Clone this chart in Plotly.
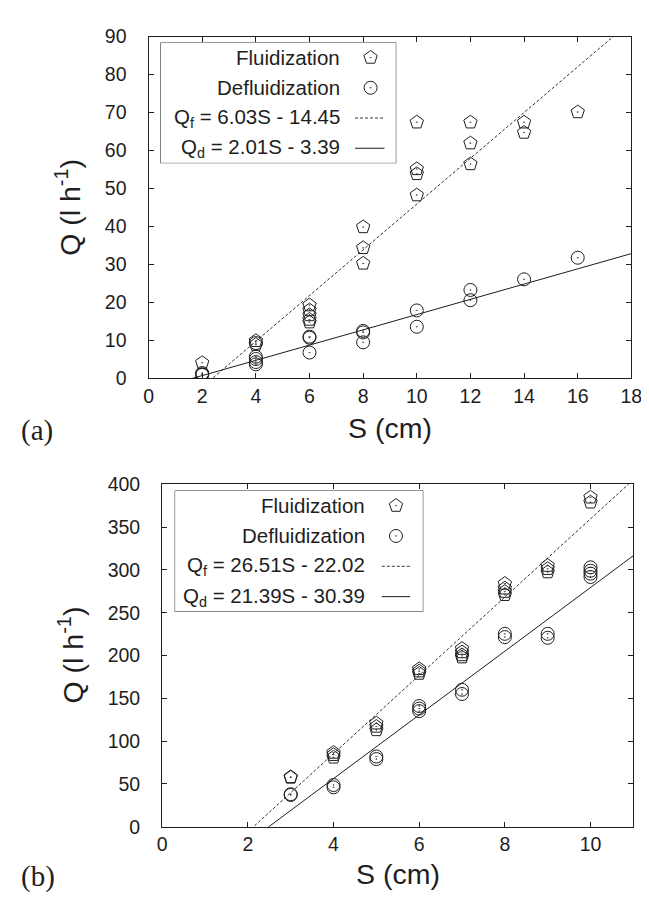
import plotly.graph_objects as go

# ---------------- data: panel (a) ----------------
a_fluid_S = [2, 4, 4, 6, 6, 6, 6, 6, 8, 8, 8, 10, 10, 10, 10, 12, 12, 12, 14, 14, 16]
a_fluid_Q = [4.0, 9.8, 8.8, 19.2, 17.9, 16.6, 15.4, 14.7, 39.8, 34.3, 30.2,
             67.4, 55.1, 53.8, 48.2, 67.4, 61.9, 56.4, 67.4, 64.7, 70.1]
a_defl_S = [2, 2, 2, 4, 4, 4, 4, 4, 6, 6, 6, 8, 8, 8, 10, 10, 12, 12, 14, 16]
a_defl_Q = [1.3, 1.0, 0.8, 9.2, 5.6, 5.0, 4.2, 3.6, 10.9, 10.6, 6.7, 12.4, 12.0, 9.4,
            17.8, 13.5, 23.2, 20.5, 26.0, 31.7]
a_fit_slope = [6.03, 2.01]        # fluidization, defluidization
a_fit_icpt = [-14.45, -3.39]
a_fit_labels = ["Q<sub>f</sub> = 6.03S - 14.45", "Q<sub>d</sub> = 2.01S - 3.39"]
a_xrange = [0, 18]
a_yrange = [0, 90]

# ---------------- data: panel (b) ----------------
b_fluid_S = [3, 3, 4, 4, 4, 5, 5, 5, 6, 6, 6, 7, 7, 7, 7, 8, 8, 8, 8, 9, 9, 9, 10, 10]
b_fluid_Q = [58.1, 57.5, 86.6, 84.0, 81.0, 120.8, 117.0, 113.0, 184.3, 181.6, 178.9,
             208.0, 204.0, 200.5, 198.0, 284.0, 278.5, 274.6, 270.9, 305.0, 301.3, 297.4,
             384.8, 379.0]
b_defl_S = [3, 3, 4, 4, 5, 5, 6, 6, 6, 7, 7, 8, 8, 9, 9, 10, 10, 10, 10]
b_defl_Q = [38.0, 37.0, 48.7, 46.0, 82.0, 79.0, 141.0, 138.0, 135.0, 160.0, 155.0,
            225.3, 221.5, 225.3, 220.7, 303.0, 299.0, 295.6, 291.7]
# lines as drawn in the figure
b_fit_slope = [45.7, 37.2]
b_fit_icpt = [-97.4, -92.6]
b_fit_labels = ["Q<sub>f</sub> = 26.51S - 22.02", "Q<sub>d</sub> = 21.39S - 30.39"]
b_xrange = [0, 11]
b_yrange = [0, 400]

series_names = ["Fluidization", "Defluidization"]

W, H = 649, 897
INK = "#1e1e1e"
FONT = "Liberation Sans"


def px(x):
    return x / W


def py(y):
    return 1 - y / H


fig = go.Figure()

MK = dict(
    fluid=dict(symbol="pentagon-open-dot", size=14, color=INK, line=dict(width=1, color=INK)),
    defl=dict(symbol="circle-open-dot", size=13, color=INK, line=dict(width=1, color=INK)),
)
LN = [dict(color="#333", width=1, dash="3px,2px"), dict(color=INK, width=1)]


def add_panel(xa, ya, fS, fQ, dS, dQ, slopes, icpts, xr):
    for k in range(2):
        xs = [xr[0], xr[1]]
        ys = [slopes[k] * x + icpts[k] for x in xs]
        fig.add_trace(go.Scatter(x=xs, y=ys, mode="lines", line=LN[k],
                                 xaxis=xa, yaxis=ya, showlegend=False, hoverinfo="skip"))
    fig.add_trace(go.Scatter(x=fS, y=fQ, mode="markers", marker=MK["fluid"],
                             xaxis=xa, yaxis=ya, showlegend=False))
    fig.add_trace(go.Scatter(x=dS, y=dQ, mode="markers", marker=MK["defl"],
                             xaxis=xa, yaxis=ya, showlegend=False))


add_panel("x", "y", a_fluid_S, a_fluid_Q, a_defl_S, a_defl_Q, a_fit_slope, a_fit_icpt, a_xrange)
add_panel("x2", "y2", b_fluid_S, b_fluid_Q, b_defl_S, b_defl_Q, b_fit_slope, b_fit_icpt, b_xrange)

# ---------------- custom gnuplot-style keys ----------------
rows = [0.875, 0.625, 0.375, 0.125]
annotations = []
shapes = []


def add_key(xa, ya, sym_x, line_x0, line_x1, text_x, labels):
    fig.add_trace(go.Scatter(x=[sym_x], y=[rows[0]], mode="markers", marker=MK["fluid"],
                             xaxis=xa, yaxis=ya, showlegend=False, hoverinfo="skip"))
    fig.add_trace(go.Scatter(x=[sym_x], y=[rows[1]], mode="markers", marker=MK["defl"],
                             xaxis=xa, yaxis=ya, showlegend=False, hoverinfo="skip"))
    for k in range(2):
        fig.add_trace(go.Scatter(x=[line_x0, line_x1], y=[rows[2 + k]] * 2, mode="lines",
                                 line=LN[k], xaxis=xa, yaxis=ya, showlegend=False,
                                 hoverinfo="skip"))
    texts = series_names + labels
    for r, t in zip(rows, texts):
        annotations.append(dict(x=text_x, y=r, xref=xa, yref=ya, text=t, showarrow=False,
                                xanchor="right", yanchor="middle",
                                font=dict(family=FONT, size=20.5, color=INK)))
    shapes.append(dict(type="rect", xref=xa, yref=ya, x0=0, x1=1, y0=0, y1=1,
                       line=dict(color=INK, width=1)))


add_key("x3", "y3", 0.891, 0.825, 0.950, 0.771, a_fit_labels)
add_key("x4", "y4", 0.890, 0.833, 0.947, 0.775, b_fit_labels)


# ---------------- titles & panel labels ----------------
def title(x, y, text, angle=0, size=28.5, family=FONT, xanchor="center"):
    annotations.append(dict(x=px(x), y=py(y), xref="paper", yref="paper", text=text,
                            showarrow=False, xanchor=xanchor, yanchor="middle",
                            textangle=angle, font=dict(family=family, size=size, color=INK)))


title(386.5, 419, "S (cm)")
title(394.5, 877, "S (cm)")
title(57, 193, "Q (l h<sup>-1</sup>)", angle=-90)
title(60, 652, "Q (l h<sup>-1</sup>)", angle=-90)
title(6, 422, "(a)", size=29, family="Liberation Serif", xanchor="left")
title(6, 879, "(b)", size=29, family="Liberation Serif", xanchor="left")

axis_common = dict(showline=True, linecolor=INK, linewidth=1.3, mirror="ticks",
                   ticks="inside", ticklen=5, tickwidth=1, tickcolor=INK,
                   showgrid=False, zeroline=False,
                   tickfont=dict(family=FONT, size=19.5, color=INK))
hidden = dict(visible=False, range=[0, 1], showgrid=False, zeroline=False, fixedrange=True)

fig.update_layout(
    width=W, height=H,
    margin=dict(l=0, r=0, t=0, b=0),
    paper_bgcolor="white", plot_bgcolor="rgba(0,0,0,0)",
    showlegend=False,
    xaxis=dict(domain=[px(139), px(634)], anchor="y", range=a_xrange, dtick=2, tick0=0,
               ticklabelstandoff=0, **axis_common),
    yaxis=dict(domain=[py(368), py(18)], anchor="x", range=a_yrange, dtick=10, tick0=0,
               ticklabelstandoff=17, **axis_common),
    xaxis2=dict(domain=[px(153), px(636)], anchor="y2", range=b_xrange, dtick=2, tick0=0,
                ticklabelstandoff=0, **axis_common),
    yaxis2=dict(domain=[py(828), py(477)], anchor="x2", range=b_yrange, dtick=50, tick0=0,
                ticklabelstandoff=17, **axis_common),
    xaxis3=dict(domain=[px(151), px(393)], anchor="y3", **hidden),
    yaxis3=dict(domain=[py(148), py(24)], anchor="x3", **hidden),
    xaxis4=dict(domain=[px(165.7), px(420.7)], anchor="y4", **hidden),
    yaxis4=dict(domain=[py(607.7), py(483.3)], anchor="x4", **hidden),
    annotations=annotations,
    shapes=shapes,
)

fig.write_html("out.html")
